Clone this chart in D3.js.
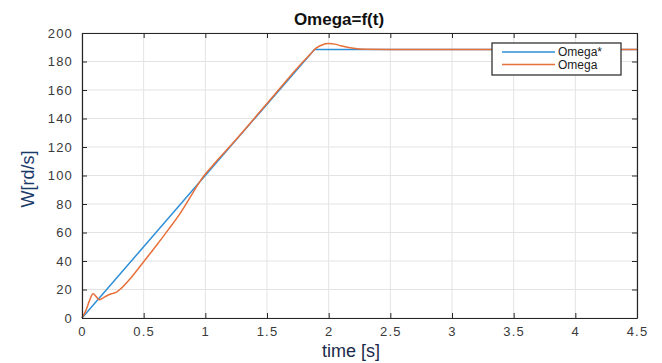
<!DOCTYPE html>
<html>
<head>
<meta charset="utf-8">
<script src="https://cdn.jsdelivr.net/npm/d3@7"></script>
<style>
  body { margin: 0; background: #fff; }
  svg { display: block; font-family: "Liberation Sans", Arial, sans-serif; }
</style>
</head>
<body>
<div class="chart"></div>
<script>
// reference speed Omega*
const tRef = [0, 1.885, 4.5];
const wRef = [0, 188.5, 188.5];

// measured speed Omega
const tMeas = [0, 0.03, 0.06, 0.09, 0.115, 0.14, 0.17, 0.21, 0.25, 0.28, 0.32, 0.4, 0.5, 0.6, 0.7, 0.8, 0.9, 0.95, 1.0, 1.05, 1.1, 1.2, 1.5, 1.8, 1.85, 1.9, 1.95, 2.0, 2.05, 2.1, 2.2, 2.3, 2.5, 4.5];
const wMeas = [0, 5, 12, 17, 15, 12.8, 14, 16, 17.3, 18.2, 21, 28.5, 39.5, 50.5, 62, 74, 88, 95, 101, 106, 111, 120.5, 150.5, 180.5, 185, 189.5, 191.8, 192.6, 192.2, 191, 189.3, 188.6, 188.5, 188.5];

const xTicks = [0, 0.5, 1, 1.5, 2, 2.5, 3, 3.5, 4, 4.5];
const yTicks = [0, 20, 40, 60, 80, 100, 120, 140, 160, 180, 200];

const seriesNames = ['Omega*', 'Omega'];
const seriesColors = ['#2f8fd6', '#e8703a'];

const width = 662, height = 363;
const mLeft = 82, mRight = 637, mTop = 33, mBottom = 318;

const svg = d3.select('.chart')
  .append('svg')
  .attr('width', width)
  .attr('height', height);

const x = d3.scaleLinear([0, 4.5], [mLeft, mRight]);
const y = d3.scaleLinear([0, 200], [mBottom, mTop]);

// grid
svg.append('g')
  .selectAll('line')
  .data(xTicks)
  .enter()
  .append('line')
  .attr('x1', (d) => x(d)).attr('x2', (d) => x(d))
  .attr('y1', mTop).attr('y2', mBottom)
  .attr('stroke', '#e3e3e3').attr('stroke-width', 1);
svg.append('g')
  .selectAll('line')
  .data(yTicks)
  .enter()
  .append('line')
  .attr('x1', mLeft).attr('x2', mRight)
  .attr('y1', (d) => y(d)).attr('y2', (d) => y(d))
  .attr('stroke', '#e3e3e3').attr('stroke-width', 1);

// lines
const line = d3.line().x((d) => x(d[0])).y((d) => y(d[1]));
const refData = tRef.map((t, i) => [t, wRef[i]]);
const measData = tMeas.map((t, i) => [t, wMeas[i]]);

svg.append('path')
  .datum(refData)
  .attr('d', line)
  .attr('fill', 'none')
  .attr('stroke', seriesColors[0])
  .attr('stroke-width', 1.5);
svg.append('path')
  .datum(measData)
  .attr('d', line.curve(d3.curveMonotoneX))
  .attr('fill', 'none')
  .attr('stroke', seriesColors[1])
  .attr('stroke-width', 1.5);

// axes, MATLAB style: ticks inside on all four sides
const axisColor = '#262626';
const xBottom = svg.append('g')
  .attr('transform', `translate(0,${mBottom})`)
  .call(d3.axisBottom(x).tickValues(xTicks).tickSizeInner(-5).tickSizeOuter(0).tickPadding(9).tickFormat(d3.format('')));
const xTop = svg.append('g')
  .attr('transform', `translate(0,${mTop})`)
  .call(d3.axisTop(x).tickValues(xTicks).tickSizeInner(-5).tickSizeOuter(0).tickFormat(''));
const yLeft = svg.append('g')
  .attr('transform', `translate(${mLeft},0)`)
  .call(d3.axisLeft(y).tickValues(yTicks).tickSizeInner(-5).tickSizeOuter(0).tickPadding(9));
const yRight = svg.append('g')
  .attr('transform', `translate(${mRight},0)`)
  .call(d3.axisRight(y).tickValues(yTicks).tickSizeInner(-5).tickSizeOuter(0).tickFormat(''));

[xBottom, xTop, yLeft, yRight].forEach((g) => {
  g.select('.domain').attr('stroke', axisColor).attr('stroke-width', 1.2);
  g.selectAll('.tick line').attr('stroke', axisColor);
  g.selectAll('.tick text')
    .attr('fill', '#3a3a3a')
    .style('font-size', '13px')
    .style('letter-spacing', '1.2px');
});
xBottom.selectAll('.tick line').filter((d, i) => i === 0 || i === xTicks.length - 1).remove();

// title and labels
svg.append('text')
  .attr('x', 339).attr('y', 25)
  .attr('text-anchor', 'middle')
  .style('font-size', '17px').style('font-weight', 'bold')
  .attr('fill', '#111')
  .text('Omega=f(t)');
svg.append('text')
  .attr('x', 351).attr('y', 357)
  .attr('text-anchor', 'middle')
  .style('font-size', '18px')
  .attr('fill', '#1a2a4a')
  .text('time [s]');
svg.append('text')
  .attr('transform', 'translate(34,179) rotate(-90)')
  .attr('text-anchor', 'middle')
  .style('font-size', '18px')
  .attr('fill', '#1a3a6a')
  .text('W[rd/s]');

// legend
const legend = svg.append('g').attr('transform', 'translate(492,43)');
legend.append('rect')
  .attr('width', 129).attr('height', 32)
  .attr('fill', '#fff')
  .attr('stroke', '#333').attr('stroke-width', 1.3);
seriesNames.forEach((name, i) => {
  const ly = 9 + i * 12.5;
  legend.append('line')
    .attr('x1', 10).attr('x2', 63)
    .attr('y1', ly).attr('y2', ly)
    .attr('stroke', seriesColors[i]).attr('stroke-width', 1.5);
  legend.append('text')
    .attr('x', 66).attr('y', ly + 4)
    .style('font-size', '12px')
    .attr('fill', '#222')
    .text(name);
});
</script>
</body>
</html>
